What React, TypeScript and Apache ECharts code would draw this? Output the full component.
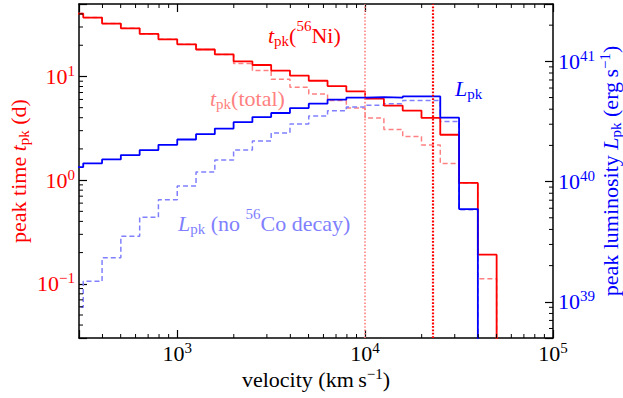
import React, { useEffect, useRef } from 'react';
import * as echarts from 'echarts';

const F = '"Liberation Serif", "Times New Roman", serif';

// bin edges (km/s), 0.1 dex bins
const binEdges = [251, 316, 398, 501, 631, 794, 1000, 1259, 1585, 1995, 2512, 3162, 3981, 5012, 6310, 7943, 10000, 12589, 15849, 19953, 25119, 31623, 39811, 50119];

// peak time from 56Ni (d)
const tpkNi = [40.4, 37.0, 32.4, 29.1, 25.7, 22.8, 20.4, 18.2, 16.3, 14.0, 12.9, 11.4, 10.2, 9.09, 8.07, 7.18, 6.11, 5.24, 4.69, 3.98, 2.74, 0.94, 0.191];
// peak time total (d)
const tpkTotal = [40.4, 37.0, 32.4, 29.1, 25.7, 22.8, 20.4, 18.2, 16.3, 13.3, 11.4, 9.42, 7.85, 6.77, 5.85, 4.97, 3.98, 3.08, 2.63, 2.18, 1.45, 0.94, 0.112];
// peak luminosity (erg/s)
const Lpk = [1.32e40, 1.42e40, 1.53e40, 1.66e40, 1.83e40, 2.02e40, 2.24e40, 2.48e40, 2.76e40, 3.12e40, 3.44e40, 3.72e40, 4.09e40, 4.45e40, 4.80e40, 4.99e40, 5.04e40, 4.99e40, 5.11e40, 5.11e40, 3.40e40, 5.91e39, 0];
// peak luminosity without 56Co decay (erg/s)
const LpkNoCo = [9.0e38, 1.48e39, 2.33e39, 3.51e39, 5.04e39, 7.06e39, 9.21e39, 1.20e40, 1.51e40, 1.83e40, 2.18e40, 2.54e40, 3.02e40, 3.51e40, 3.88e40, 4.17e40, 4.31e40, 4.45e40, 4.73e40, 4.73e40, 3.16e40, 5.83e39, 0];

// reference velocities (dotted lines)
const vLines = [10000, 23000];

// minor tick positions
const xMinorTicks = [400, 500, 600, 700, 800, 900, 2000, 3000, 4000, 5000, 6000, 7000, 8000, 9000, 20000, 30000, 40000, 50000, 60000, 70000, 80000, 90000];
const tMinorTicks = [0.04, 0.05, 0.06, 0.07, 0.08, 0.09, 0.2, 0.3, 0.4, 0.5, 0.6, 0.7, 0.8, 0.9, 2, 3, 4, 5, 6, 7, 8, 9, 20, 30, 40];
const lMinorTicks = [6e38, 7e38, 8e38, 9e38, 2e39, 3e39, 4e39, 5e39, 6e39, 7e39, 8e39, 9e39, 2e40, 3e40, 4e40, 5e40, 6e40, 7e40, 8e40, 9e40, 2e41];

const RED = '#ff0000';
const BLUE = '#0000ff';
const LRED = '#ff8080';
const LBLUE = '#8080ff';

function stepData(vals: number[], floor: number) {
  const n = vals.length;
  const pts: number[][] = vals.map((v, i) => [binEdges[i], v > 0 ? v : floor]);
  pts.push([binEdges[n], vals[n - 1] > 0 ? vals[n - 1] : floor]);
  pts.push([binEdges[n], floor]);
  return pts;
}

function richFor(color: string, mainLH = 26, subPad = 0) {
  return {
    r: { fontFamily: F, fontSize: 22, lineHeight: mainLH, color, fill: color, verticalAlign: 'middle' },
    i: { fontFamily: F, fontSize: 22, lineHeight: mainLH, fontStyle: 'italic', color, fill: color, verticalAlign: 'middle' },
    sup: { fontFamily: F, fontSize: 15, color, fill: color, verticalAlign: 'top' },
    sub: { fontFamily: F, fontSize: 15, color, fill: color, verticalAlign: 'bottom', padding: [0, 0, subPad, 0] },
  };
}

function powLabel(v: number) {
  const l = Math.log10(v);
  const r = Math.round(l);
  if (Math.abs(l - r) > 1e-6) return '';
  const e = r < 0 ? '\u2212' + (-r) : String(r);
  return '{r|10}{sup|' + e + '}';
}

const axisLineStyle = { show: true, onZero: false, lineStyle: { color: '#000', width: 1.5 } };
const axisTickStyle = { show: true, inside: true, length: 8, lineStyle: { color: '#000', width: 1.2 } };

export default function App() {
  const ref = useRef<HTMLDivElement>(null);
  useEffect(() => {
    if (!ref.current) return;
    const chart = echarts.init(ref.current, null, { renderer: 'svg' });
    const tickStyle = { stroke: '#000', lineWidth: 1 };
    const option: any = {
      animation: false,
      textStyle: { fontFamily: F },
      grid: { left: 79, top: 4, width: 474, height: 334, containLabel: false, outerBoundsMode: 'none' },
      xAxis: [
        {
          type: 'log', logBase: 10, min: 300, max: 100000, position: 'bottom',
          axisLine: axisLineStyle, axisTick: axisTickStyle, splitLine: { show: false }, minorTick: { show: false },
          axisLabel: { formatter: powLabel, rich: richFor('#000'), margin: 2 },
          name: '{r|velocity (km\u2009s}{sup|\u22121}{r|)}', nameLocation: 'middle', nameGap: 28, nameMoveOverlap: false,
          nameTextStyle: { rich: richFor('#000') },
        },
        {
          type: 'log', logBase: 10, min: 300, max: 100000, position: 'top',
          axisLine: axisLineStyle, axisTick: axisTickStyle, splitLine: { show: false },
          axisLabel: { show: false },
        },
      ],
      yAxis: [
        {
          type: 'log', logBase: 10, min: 0.03, max: 50, position: 'left',
          axisLine: axisLineStyle, axisTick: axisTickStyle, splitLine: { show: false },
          axisLabel: { formatter: powLabel, rich: richFor(RED), margin: 4 },
          name: '{r|peak time }{i|t}{sub|pk}{r| (d)}', nameLocation: 'middle', nameGap: 48, nameMoveOverlap: false,
          nameTextStyle: { rich: richFor(RED) },
        },
        {
          type: 'log', logBase: 10, min: 5e38, max: 3e41, position: 'right',
          axisLine: axisLineStyle, axisTick: axisTickStyle, splitLine: { show: false },
          axisLabel: { formatter: powLabel, rich: richFor(BLUE), margin: 5 },
          name: '{r|peak luminosity }{i|L}{sub|pk}{r| (erg\u2009s}{sup|\u22121}{r|)}', nameLocation: 'middle', nameGap: 44, nameMoveOverlap: false,
          nameTextStyle: { rich: richFor(BLUE) },
        },
      ],
      series: [
        {
          type: 'line', name: 'tpk total', xAxisIndex: 0, yAxisIndex: 0, step: 'end', showSymbol: false, symbol: 'none',
          data: stepData(tpkTotal, 1e-4), lineStyle: { color: LRED, width: 1.5, type: [5, 3] }, z: 2,
        },
        {
          type: 'line', name: 'Lpk noCo', xAxisIndex: 0, yAxisIndex: 1, step: 'end', showSymbol: false, symbol: 'none',
          data: stepData(LpkNoCo, 1e34), lineStyle: { color: LBLUE, width: 1.5, type: [5, 3] }, z: 2,
        },
        {
          type: 'line', name: 'tpk Ni', xAxisIndex: 0, yAxisIndex: 0, step: 'end', showSymbol: false, symbol: 'none',
          data: stepData(tpkNi, 1e-4), lineStyle: { color: RED, width: 1.8 }, z: 3,
          markLine: {
            silent: true, symbol: ['none', 'none'], label: { show: false },
            data: [
              { xAxis: vLines[0], lineStyle: { color: LRED, width: 1.6, type: [1.6, 1.8] } },
              { xAxis: vLines[1], lineStyle: { color: RED, width: 2.2, type: [1.8, 1.6] } },
            ],
          },
        },
        {
          type: 'line', name: 'Lpk', xAxisIndex: 0, yAxisIndex: 1, step: 'end', showSymbol: false, symbol: 'none',
          data: stepData(Lpk, 1e34), lineStyle: { color: BLUE, width: 1.8 }, z: 4,
        },
        {
          type: 'custom', xAxisIndex: 0, yAxisIndex: 0, silent: true, clip: false, z: 10,
          data: xMinorTicks.map((v) => [v, 1]), encode: { x: 0, y: 1 },
          renderItem: (params: any, api: any) => {
            const p = api.coord([api.value(0), api.value(1)]);
            const cs = params.coordSys;
            return {
              type: 'group', children: [
                { type: 'line', shape: { x1: p[0], y1: cs.y + cs.height, x2: p[0], y2: cs.y + cs.height - 4 }, style: tickStyle },
                { type: 'line', shape: { x1: p[0], y1: cs.y, x2: p[0], y2: cs.y + 4 }, style: tickStyle },
              ],
            };
          },
        },
        {
          type: 'custom', xAxisIndex: 0, yAxisIndex: 0, silent: true, clip: false, z: 10,
          data: tMinorTicks.map((v) => [1000, v]), encode: { x: 0, y: 1 },
          renderItem: (params: any, api: any) => {
            const p = api.coord([api.value(0), api.value(1)]);
            const cs = params.coordSys;
            return { type: 'line', shape: { x1: cs.x, y1: p[1], x2: cs.x + 4, y2: p[1] }, style: tickStyle };
          },
        },
        {
          type: 'custom', xAxisIndex: 0, yAxisIndex: 1, silent: true, clip: false, z: 10,
          data: lMinorTicks.map((v) => [1000, v]), encode: { x: 0, y: 1 },
          renderItem: (params: any, api: any) => {
            const p = api.coord([api.value(0), api.value(1)]);
            const cs = params.coordSys;
            return { type: 'line', shape: { x1: cs.x + cs.width - 4, y1: p[1], x2: cs.x + cs.width, y2: p[1] }, style: tickStyle };
          },
        },
      ],
      graphic: [
        { type: 'text', x: 268, y: 18, z: 20, style: { text: '{i|t}{sub|pk}{r|(}{sup|56}{r|Ni)}', rich: richFor(RED, 34, 4), fill: RED } },
        { type: 'text', x: 210, y: 81, z: 20, style: { text: '{i|t}{sub|pk}{r|(total)}', rich: richFor(LRED, 34, 4), fill: LRED } },
        { type: 'text', x: 455, y: 71, z: 20, style: { text: '{i|L}{sub|pk}', rich: richFor(BLUE, 34, 4), fill: BLUE } },
        { type: 'text', x: 178, y: 206, z: 20, style: { text: '{i|L}{sub|pk}{r| (no }{sup|56}{r|Co decay)}', rich: richFor(LBLUE, 34, 4), fill: LBLUE } },
      ],
    };
    chart.setOption(option);
    return () => chart.dispose();
  }, []);
  return <div ref={ref} style={{ position: 'fixed', left: 0, top: 0, width: 623, height: 398, background: '#fff' }} />;
}
